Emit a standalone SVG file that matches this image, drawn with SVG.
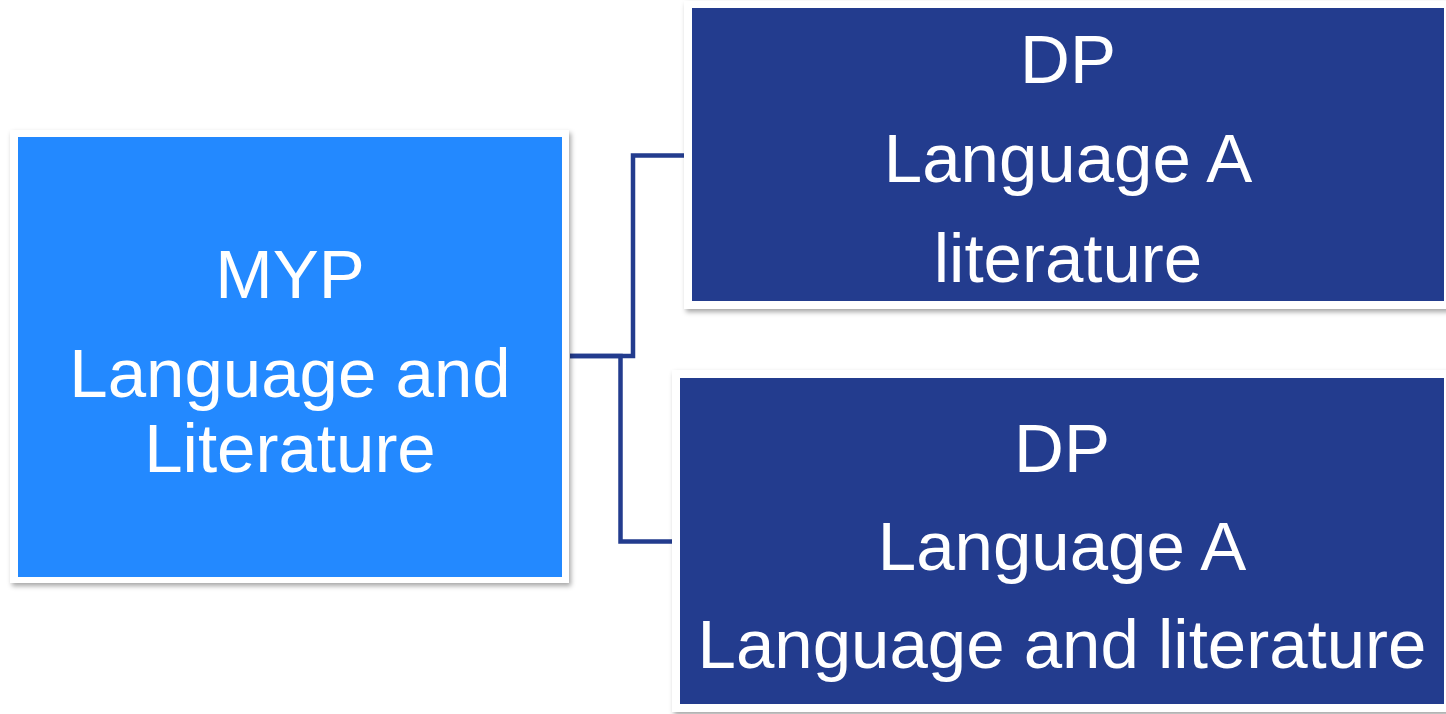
<svg xmlns="http://www.w3.org/2000/svg" width="1446" height="714" viewBox="0 0 1446 714">
<defs>
<filter id="sh" x="-5%" y="-5%" width="110%" height="115%">
<feDropShadow dx="2" dy="3" stdDeviation="2.5" flood-color="#000" flood-opacity="0.35"/>
</filter>
<style>
.frame{fill:#ffffff;filter:url(#sh)}
.light{fill:#2389ff}
.dark{fill:#233c8e}
.t{font-family:"Liberation Sans",Arial,sans-serif;font-size:69px;fill:#ffffff;text-anchor:middle}
.con{fill:none;stroke:#233c8e;stroke-width:4.5;stroke-linejoin:miter}
</style>
</defs>
<rect width="1446" height="714" fill="#ffffff"/>
<g id="connectors">
<path class="con" d="M570,356 H633 V155.5 H684"/>
<path class="con" d="M570,356 H620.5 V541.5 H672"/>
</g>
<g id="myp">
<rect class="frame" x="10" y="130" width="559" height="453"/>
<rect class="light" x="18" y="137" width="544" height="440"/>
<text class="t" x="290" y="298">MYP</text>
<text class="t" x="290" y="397">Language and</text>
<text class="t" x="290" y="472">Literature</text>
</g>
<g id="dp-literature">
<rect class="frame" x="684" y="1" width="770" height="308"/>
<rect class="dark" x="692" y="8" width="752" height="293"/>
<text class="t" x="1068" y="83">DP</text>
<text class="t" x="1068" y="182">Language A</text>
<text class="t" x="1068" y="282">literature</text>
</g>
<g id="dp-langlit">
<rect class="frame" x="672" y="370" width="782" height="342"/>
<rect class="dark" x="680" y="378" width="764" height="326"/>
<text class="t" x="1062" y="472">DP</text>
<text class="t" x="1062" y="570">Language A</text>
<text class="t" x="1062" y="668">Language and literature</text>
</g>
</svg>
